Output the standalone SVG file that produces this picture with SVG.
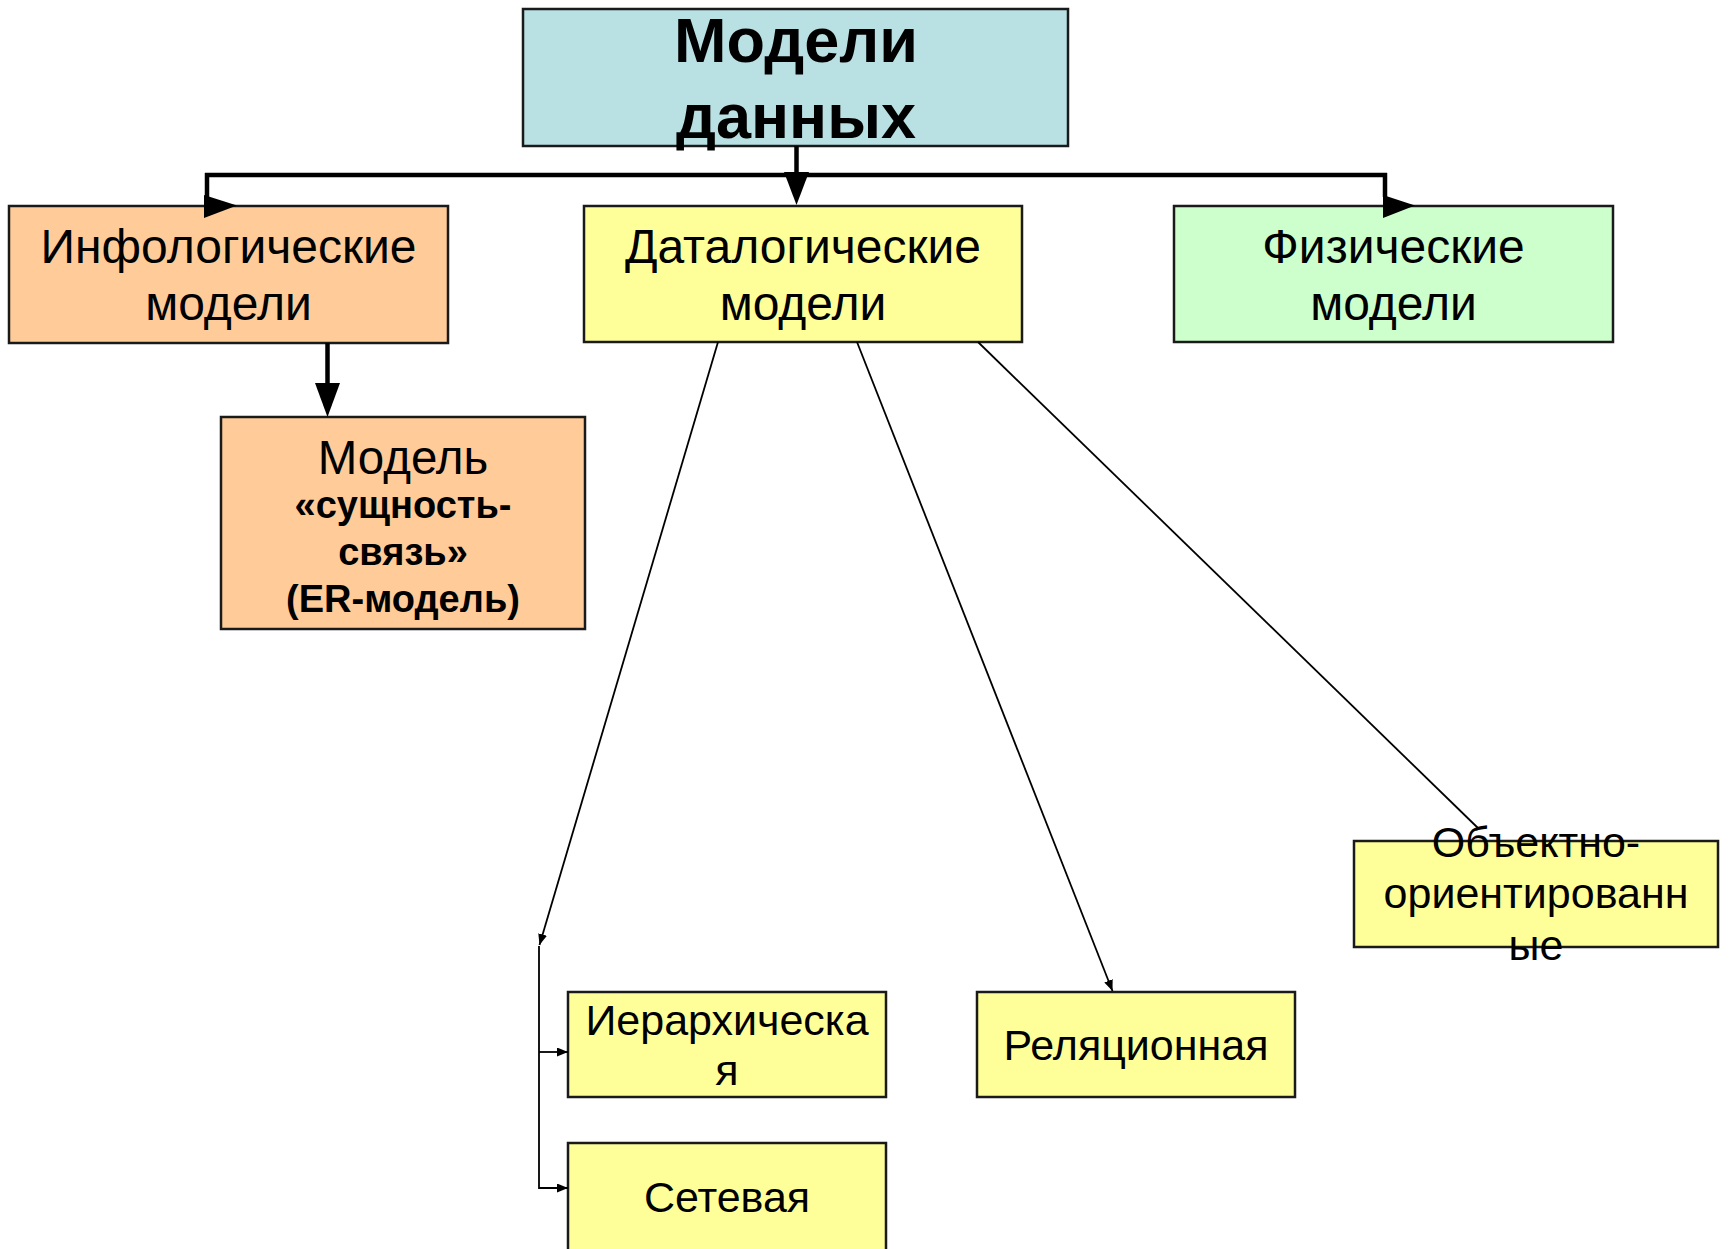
<svg xmlns="http://www.w3.org/2000/svg" width="1729" height="1249" viewBox="0 0 1729 1249">
<defs>
<style>
.box{stroke:#1a1a1a;stroke-width:2.5}
.cyan{fill:#B9E0E3}
.orange{fill:#FFCC99}
.yellow{fill:#FFFF99}
.green{fill:#CCFFCC}
text{font-family:"Liberation Sans",Arial,sans-serif;fill:#000;text-anchor:middle}
.t48{font-size:48px}
.t43{font-size:43px}
.t47{font-size:47.5px}
.b38{font-size:38px;font-weight:bold}
.title{font-size:63px;font-weight:bold}
.thick{stroke:#000;stroke-width:4.5;fill:none}
.thin{stroke:#000;stroke-width:1.8;fill:none}
.head{fill:#000}
</style>
<marker id="ah" markerUnits="userSpaceOnUse" markerWidth="12" markerHeight="10" refX="11" refY="4.5" orient="auto">
<path d="M0,0 L11,4.5 L0,9 z" fill="#000"/>
</marker>
</defs>
<rect width="1729" height="1249" fill="#fff"/>

<g id="node-root">
<rect class="box cyan" x="523" y="9" width="545" height="137"/>
<text class="title" x="796" y="62">Модели</text>
<text class="title" x="796" y="138">данных</text>
</g>

<g id="node-infological">
<rect class="box orange" x="9" y="206" width="439" height="137"/>
<text class="t48" x="228.5" y="263">Инфологические</text>
<text class="t48" x="228.5" y="320">модели</text>
</g>

<g id="node-datalogical">
<rect class="box yellow" x="584" y="206" width="438" height="136"/>
<text class="t48" x="803" y="263">Даталогические</text>
<text class="t48" x="803" y="320">модели</text>
</g>

<g id="node-physical">
<rect class="box green" x="1174" y="206" width="439" height="136"/>
<text class="t48" x="1393.5" y="263">Физические</text>
<text class="t48" x="1393.5" y="320">модели</text>
</g>

<g id="node-er">
<rect class="box orange" x="221" y="417" width="364" height="212"/>
<text class="t47" x="403" y="474">Модель</text>
<text class="b38" x="403" y="518">«сущность-</text>
<text class="b38" x="403" y="565">связь»</text>
<text class="b38" x="403" y="612">(ER-модель)</text>
</g>

<g id="node-hierarchical">
<rect class="box yellow" x="568" y="992" width="318" height="105"/>
<text class="t43" x="727" y="1035">Иерархическа</text>
<text class="t43" x="727" y="1085">я</text>
</g>

<g id="node-network">
<rect class="box yellow" x="568" y="1143" width="318" height="110"/>
<text class="t43" x="727" y="1212">Сетевая</text>
</g>

<g id="node-relational">
<rect class="box yellow" x="977" y="992" width="318" height="105"/>
<text class="t43" x="1136" y="1060">Реляционная</text>
</g>

<g id="node-oo">
<rect class="box yellow" x="1354" y="841" width="364" height="106"/>
<text class="t43" x="1536" y="857">Объектно-</text>
<text class="t43" x="1536" y="908">ориентированн</text>
<text class="t43" x="1536" y="960">ые</text>
</g>

<g id="connectors">
<path class="thick" d="M796.5,146 V178"/>
<polygon class="head" points="784,172 809,172 796.5,205"/>
<path class="thick" d="M205,175 H1387"/>
<path class="thick" d="M207,173 V197"/>
<polygon class="head" points="204,195 237,205.5 204,218"/>
<path class="thick" d="M1385,173 V197"/>
<polygon class="head" points="1383,195 1415,205.5 1383,218"/>
<path class="thick" d="M327.5,343 V386"/>
<polygon class="head" points="315,383 340,383 327.5,417"/>
<path class="thin" d="M718,342 L539.5,945" marker-end="url(#ah)"/>
<path class="thin" d="M539,946 V1188 H568" marker-end="url(#ah)"/>
<path class="thin" d="M539,1052 H568" marker-end="url(#ah)"/>
<path class="thin" d="M857,342 L1112.5,991" marker-end="url(#ah)"/>
<path class="thin" d="M978,342 L1479,829"/>
</g>
</svg>
